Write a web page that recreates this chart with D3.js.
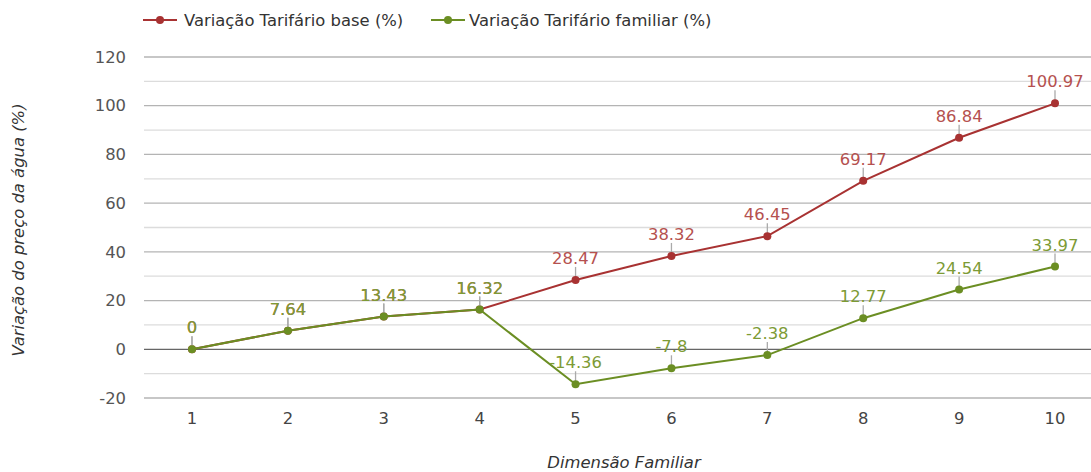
<!DOCTYPE html>
<html><head><meta charset="utf-8">
<script src="https://cdn.jsdelivr.net/npm/d3@7/dist/d3.min.js"></script>
<style>body{margin:0;background:#fff;} svg{display:block;font-family:"DejaVu Sans",sans-serif;}</style>
</head><body>
<svg id="c" width="1091" height="472"></svg>
<script>
const categories = [1,2,3,4,5,6,7,8,9,10];
const baseValues = [0,7.64,13.43,16.32,28.47,38.32,46.45,69.17,86.84,100.97];
const familiarValues = [0,7.64,13.43,16.32,-14.36,-7.8,-2.38,12.77,24.54,33.97];
const yTicks = [-20,0,20,40,60,80,100,120];
const seriesNames = ["Variação Tarifário base (%)","Variação Tarifário familiar (%)"];
const seriesColors = ["#a83232","#6b8e23"];
const labelColors = ["#b5514f","#7d9b35"];

const FS = 16.4;
const svg = d3.select("#c");
const x = d3.scalePoint().domain(categories).range([192,1055]);
const y = d3.scaleLinear().domain([-20,120]).range([398,57]);
const gridL = 144, gridR = 1091;

// grid
const minor = d3.range(-10,120,20);
svg.append("g").selectAll("line").data(minor).join("line")
  .attr("x1",gridL).attr("x2",gridR).attr("y1",d=>y(d)).attr("y2",d=>y(d))
  .attr("stroke","#dcdcdc").attr("stroke-width",1.3);
svg.append("g").selectAll("line").data(yTicks).join("line")
  .attr("x1",gridL).attr("x2",gridR).attr("y1",d=>y(d)).attr("y2",d=>y(d))
  .attr("stroke",d=>d===0?"#666":"#b4b4b4").attr("stroke-width",1.3);

// y tick labels
svg.append("g").selectAll("text").data(yTicks).join("text")
  .attr("x",126).attr("y",d=>y(d)).attr("dy","0.35em").attr("text-anchor","end")
  .attr("font-size",FS).attr("fill","#555").text(d=>d);
// x tick labels
svg.append("g").selectAll("text").data(categories).join("text")
  .attr("x",d=>x(d)).attr("y",418).attr("dy","0.35em").attr("text-anchor","middle")
  .attr("font-size",FS).attr("fill","#444").text(d=>d);

// axis titles
svg.append("text").attr("transform","translate(24,230) rotate(-90)")
  .attr("text-anchor","middle").attr("font-size",FS).attr("font-style","italic")
  .attr("fill","#333").text("Variação do preço da água (%)");
svg.append("text").attr("x",624).attr("y",468).attr("text-anchor","middle")
  .attr("font-size",FS).attr("font-style","italic").attr("fill","#333").text("Dimensão Familiar");

const series = [baseValues, familiarValues];
const line = d3.line().x((d,i)=>x(categories[i])).y(d=>y(d));
series.forEach((vals,si)=>{
  const g = svg.append("g");
  g.append("path").datum(vals).attr("d",line).attr("fill","none")
    .attr("stroke",seriesColors[si]).attr("stroke-width",2);
  g.selectAll("line.lead").data(vals).join("line").attr("class","lead")
    .attr("x1",(d,i)=>x(categories[i])).attr("x2",(d,i)=>x(categories[i]))
    .attr("y1",d=>y(d)-3).attr("y2",d=>y(d)-13).attr("stroke","#aaa").attr("stroke-width",1.3);
  g.selectAll("circle").data(vals).join("circle")
    .attr("cx",(d,i)=>x(categories[i])).attr("cy",d=>y(d)).attr("r",4)
    .attr("fill",seriesColors[si]);
  g.selectAll("text").data(vals).join("text")
    .attr("x",(d,i)=>x(categories[i])).attr("y",d=>y(d)-16)
    .attr("text-anchor","middle").attr("font-size",FS).attr("fill",labelColors[si])
    .text(d=>d);
});

// legend
const legX = [143, 431];
const legTextOff = [41, 38];
seriesNames.forEach((n,i)=>{
  const g = svg.append("g").attr("transform",`translate(${legX[i]},20)`);
  g.append("line").attr("x1",0).attr("x2",34).attr("y1",0).attr("y2",0)
    .attr("stroke",seriesColors[i]).attr("stroke-width",2);
  g.append("circle").attr("cx",17).attr("cy",0).attr("r",4).attr("fill",seriesColors[i]);
  g.append("text").attr("x",legTextOff[i]).attr("y",0).attr("dy","0.35em").attr("font-size",FS)
    .attr("fill","#333").text(n);
});
</script>
</body></html>
